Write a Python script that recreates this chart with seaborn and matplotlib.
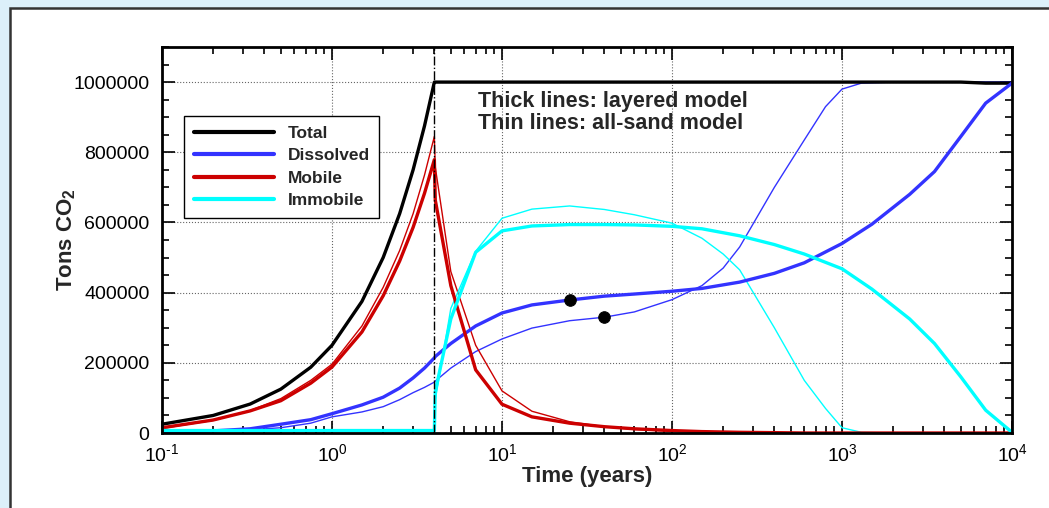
import numpy as np
import pandas as pd
import seaborn as sns
import matplotlib.pyplot as plt
from matplotlib.patches import Rectangle
from matplotlib.ticker import LogLocator, MultipleLocator, FuncFormatter, NullFormatter

# 주입 기간 시간축 (years)
time_inj = [0.1, 0.2, 0.33, 0.5, 0.75, 1, 1.5, 2, 2.5, 3, 3.5, 4]

# 층상 모델 (thick lines)
time_post_layered = [4.05, 5, 7, 10, 15, 25, 40, 60, 100, 150, 250, 400, 600,
                     1000, 1500, 2500, 3500, 5000, 7000, 10000]
layered_total = [25000, 50000, 82500, 125000, 187500, 250000, 375000, 500000, 625000, 750000, 875000, 1000000,
                 1000000, 1000000, 1000000, 1000000, 1000000, 1000000, 1000000, 1000000, 1000000, 1000000,
                 1000000, 1000000, 1000000, 1000000, 1000000, 1000000, 1000000, 1000000, 997000, 997000]
layered_dissolved = [3000, 6000, 12000, 25000, 38000, 55000, 80000, 102000, 128000, 157000, 185000, 214000,
                     218000, 255000, 305000, 342000, 365000, 379000, 390000, 396000, 404000, 412000,
                     430000, 455000, 485000, 540000, 595000, 680000, 745000, 845000, 940000, 997000]
layered_mobile = [15000, 37000, 63000, 92000, 142000, 188000, 288000, 391000, 490000, 586000, 683000, 779000,
                  664000, 420000, 180000, 82000, 46000, 28000, 18000, 12000, 7000, 4000,
                  2000, 1000, 0, 0, 0, 0, 0, 0, 0, 0]
layered_immobile = [7000, 7000, 7000, 7000, 7000, 7000, 7000, 7000, 7000, 7000, 7000, 7000,
                    118000, 325000, 515000, 576000, 590000, 594000, 594000, 593000, 589000, 582000,
                    562000, 537000, 510000, 468000, 410000, 325000, 255000, 160000, 65000, 2000]

# 전체 모래 모델 (thin lines)
time_post_sand = [4.05, 5, 7, 10, 15, 25, 40, 60, 100, 150, 200, 250, 400, 600,
                  800, 1000, 1300, 2000, 5000, 10000]
sand_total = [25000, 50000, 82500, 125000, 187500, 250000, 375000, 500000, 625000, 750000, 875000, 1000000,
              1000000, 1000000, 1000000, 1000000, 1000000, 1000000, 1000000, 1000000, 1000000, 1000000,
              1000000, 1000000, 1000000, 1000000, 1000000, 1000000, 1000000, 1000000, 1000000, 1000000]
sand_dissolved = [3000, 5000, 9000, 15000, 28000, 46000, 60000, 75000, 95000, 115000, 130000, 145000,
                  148000, 185000, 232000, 268000, 299000, 320000, 330000, 345000, 380000, 420000,
                  470000, 530000, 700000, 835000, 930000, 980000, 997000, 1000000, 1000000, 1000000]
sand_mobile = [13000, 36000, 64000, 98000, 150000, 196000, 305000, 415000, 520000, 625000, 735000, 845000,
               758000, 460000, 250000, 120000, 62000, 32000, 18000, 10000, 5000, 3000,
               2000, 1000, 0, 0, 0, 0, 0, 0, 0, 0]
sand_immobile = [9000, 9000, 9000, 9000, 9000, 9000, 9000, 9000, 9000, 9000, 9000, 9000,
                 94000, 355000, 518000, 612000, 638000, 647000, 637000, 622000, 598000, 555000,
                 510000, 465000, 300000, 150000, 70000, 15000, 2000, 0, 0, 0]

# 표시 점
dot_time = [25, 40]
dot_value = [379000, 330000]

components = ["Total", "Dissolved", "Mobile", "Immobile"]
colors = {"Total": "black", "Dissolved": "#3333ff", "Mobile": "#cc0000", "Immobile": "#00ffff"}


def to_long(times, series):
    rows = []
    for name, vals in zip(components, series):
        for t, v in zip(times, vals):
            rows.append({"time": t, "tons": v, "component": name})
    return pd.DataFrame(rows)


def decade_label(v, pos):
    exp = int(round(np.log10(v)))
    return r"$10^{\text{%d}}$" % exp


df_layered = to_long(time_inj + time_post_layered,
                     [layered_total, layered_dissolved, layered_mobile, layered_immobile])
df_sand = to_long(time_inj + time_post_sand,
                  [sand_total, sand_dissolved, sand_mobile, sand_immobile])

sns.set_style("ticks")
plt.rcParams['font.family'] = ['Liberation Sans', 'DejaVu Sans']
plt.rcParams['mathtext.fontset'] = 'custom'
plt.rcParams['mathtext.rm'] = 'Liberation Sans'
plt.rcParams['mathtext.bf'] = 'Liberation Sans:bold'
plt.rcParams['mathtext.default'] = 'regular'
plt.rcParams['axes.unicode_minus'] = False

fig = plt.figure(figsize=(10.49, 5.08), dpi=100, facecolor="#dcf0fa")
fig.add_artist(Rectangle((10 / 1049, -0.1), 1.2, 1.1 - 8 / 508, transform=fig.transFigure,
                         facecolor="white", edgecolor="#333333", linewidth=1.8, zorder=0))
ax = fig.add_axes([162 / 1049, 75 / 508, 850 / 1049, 386 / 508])
ax.set_facecolor("white")

ax.grid(True, which="major", color="#666666", linestyle=":", linewidth=0.8)
ax.set_axisbelow(True)

sns.lineplot(data=df_sand, x="time", y="tons", hue="component", palette=colors,
             linewidth=1.0, legend=False, errorbar=None, ax=ax)
sns.lineplot(data=df_layered, x="time", y="tons", hue="component", palette=colors,
             linewidth=2.4, legend=False, errorbar=None, ax=ax)
sns.scatterplot(x=dot_time, y=dot_value, color="black", s=70, edgecolor="black", zorder=5, ax=ax)

ax.axvline(4, color="black", linestyle="-.", linewidth=1.0, zorder=4)

ax.set_xscale("log")
ax.set_xlim(0.1, 10000)
ax.set_ylim(0, 1100000)
ax.xaxis.set_major_locator(LogLocator(base=10, numticks=10))
ax.xaxis.set_major_formatter(FuncFormatter(decade_label))
ax.xaxis.set_minor_locator(LogLocator(base=10, subs=range(2, 10), numticks=10))
ax.xaxis.set_minor_formatter(NullFormatter())
ax.yaxis.set_major_locator(MultipleLocator(200000))
ax.yaxis.set_minor_locator(MultipleLocator(50000))
ax.yaxis.set_major_formatter(FuncFormatter(lambda v, p: f"{int(v)}"))

ax.tick_params(which="both", direction="in", top=True, right=True, width=1.2, colors="black")
ax.tick_params(which="major", length=9, labelsize=14)
ax.tick_params(which="minor", length=5)
ax.tick_params(axis="y", pad=9)
ax.tick_params(axis="x", pad=7)
for s in ax.spines.values():
    s.set_linewidth(2)
    s.set_color("black")

ax.set_xlabel("Time (years)", fontsize=16, fontweight="bold", labelpad=1)
ax.set_ylabel("Tons CO$_2$", fontsize=16, fontweight="bold", labelpad=-3)

handles = [plt.Line2D([], [], color=colors[c], linewidth=3) for c in components]
leg = ax.legend(handles, components, loc="upper left", bbox_to_anchor=(0.026, 0.821),
                borderaxespad=0, fancybox=False, framealpha=1, edgecolor="black",
                prop={"weight": "bold", "size": 12.5}, handlelength=4.6, handletextpad=0.8,
                labelspacing=0.42, borderpad=0.55)
leg.get_frame().set_linewidth(1.0)

ax.text(0.372, 0.885, "Thick lines: layered model\nThin lines: all-sand model",
        transform=ax.transAxes, ha="left", va="top", fontsize=15.5, fontweight="bold",
        linespacing=1.05)

plt.savefig("out.png", dpi=100, facecolor=fig.get_facecolor())
